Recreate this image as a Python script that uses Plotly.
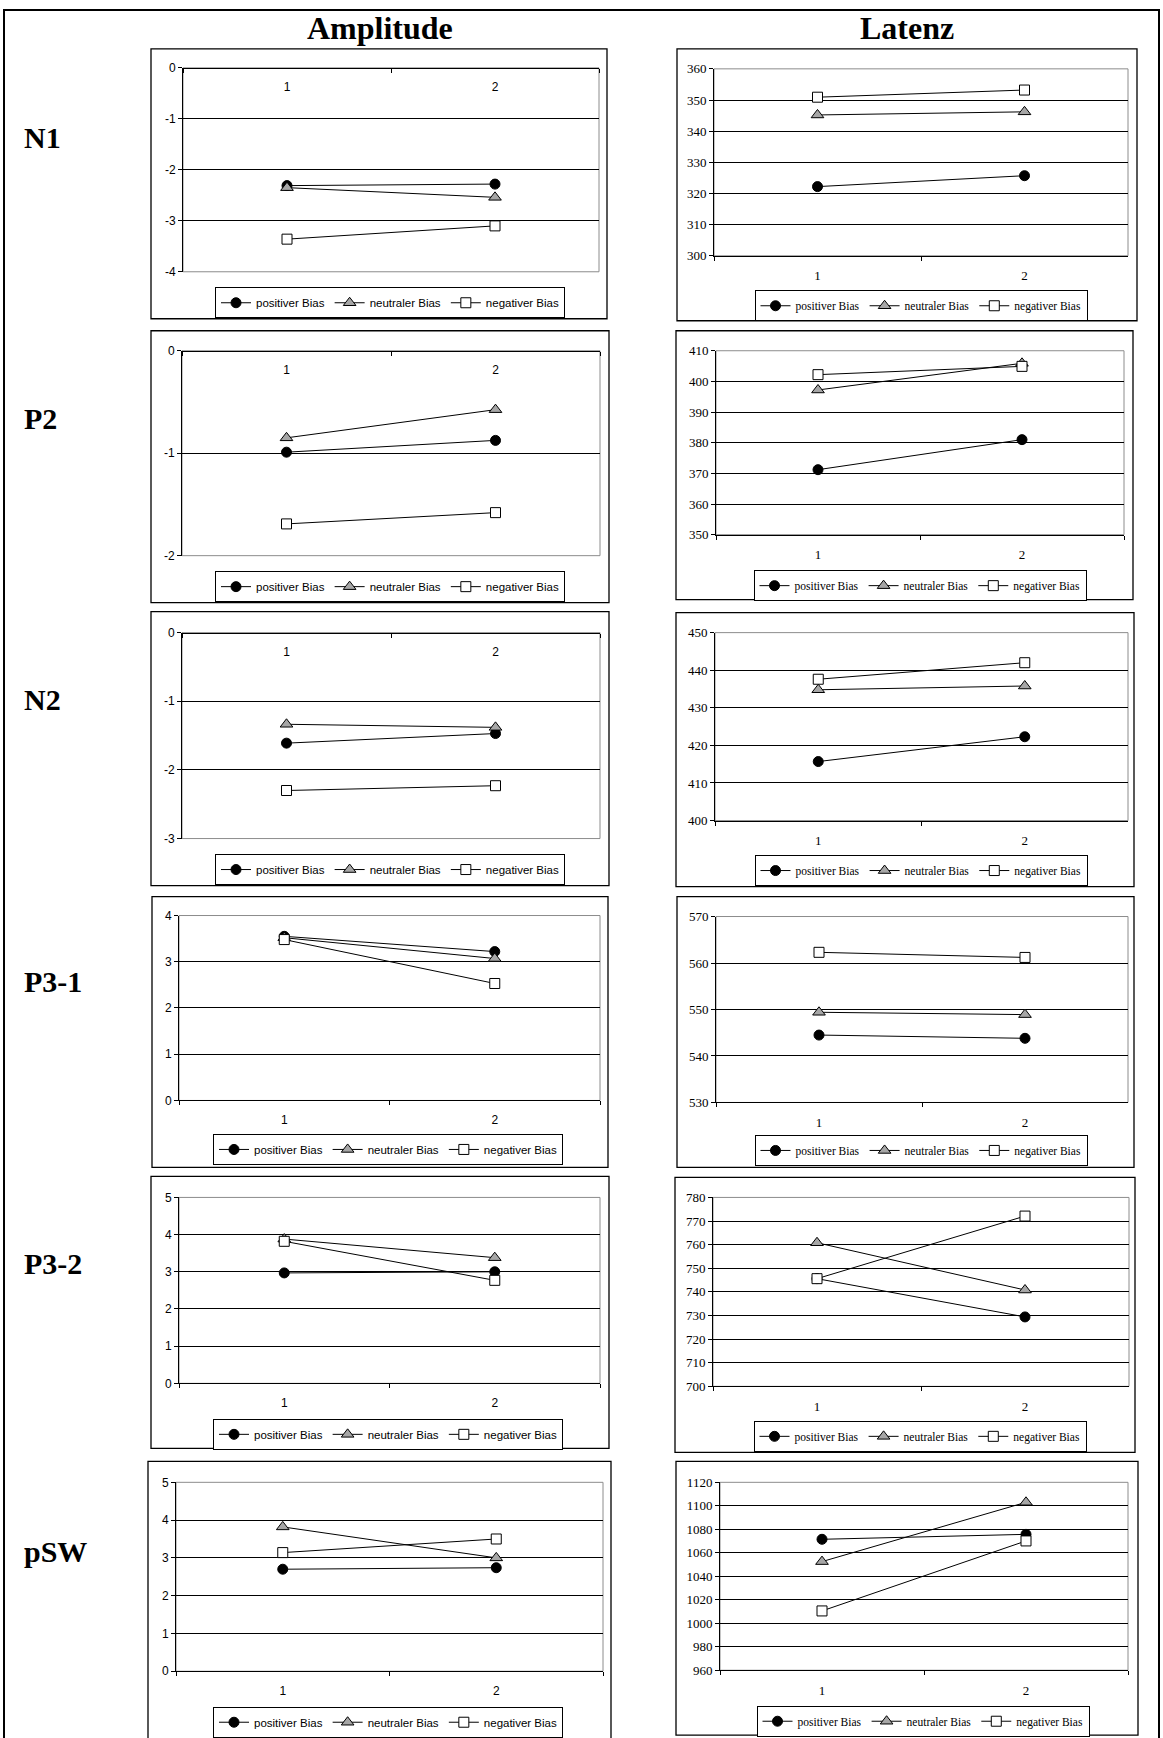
import plotly.graph_objects as go

W, H = 1163, 1738

# ---------------- data ----------------
categories = ["1", "2"]
series_names = ["positiver Bias", "neutraler Bias", "negativer Bias"]
components = ["N1", "P2", "N2", "P3-1", "P3-2", "pSW"]
column_titles = ["Amplitude", "Latenz"]

# one [x=1, x=2] pair per component (N1, P2, N2, P3-1, P3-2, pSW)
amplitude_positiv = [[-2.31, -2.28], [-0.99, -0.875], [-1.61, -1.47], [3.55, 3.22], [2.97, 3.00], [2.70, 2.74]]
amplitude_neutral = [[-2.35, -2.54], [-0.85, -0.575], [-1.335, -1.38], [3.52, 3.07], [3.88, 3.38], [3.82, 3.00]]
amplitude_negativ = [[-3.36, -3.10], [-1.69, -1.58], [-2.30, -2.23], [3.48, 2.53], [3.82, 2.77], [3.14, 3.50]]

latenz_positiv = [[322.2, 325.7], [371.2, 381.0], [415.7, 422.3], [544.5, 543.8], [745.6, 729.4], [1071.5, 1075.7]]
latenz_neutral = [[345.2, 346.2], [397.2, 405.9], [434.8, 435.8], [549.4, 548.9], [760.8, 740.8], [1052.5, 1103.0]]
latenz_negativ = [[350.9, 353.2], [402.2, 404.9], [437.6, 442.0], [562.3, 561.2], [745.6, 772.1], [1010.5, 1070.1]]

amplitude_ranges = [[-4, 0], [-2, 0], [-3, 0], [0, 4], [0, 5], [0, 5]]
amplitude_dticks = [1, 1, 1, 1, 1, 1]
latenz_ranges = [[300, 360], [350, 410], [400, 450], [530, 570], [700, 780], [960, 1120]]
latenz_dticks = [10, 10, 10, 10, 10, 20]

# ---------------- geometry (pixels) ----------------
amp_boxes = [(151, 49, 607, 319), (151, 331, 609, 603), (151, 612, 609, 886),
             (152, 897, 608, 1168), (151, 1177, 609, 1449), (148, 1462, 611, 1770)]
amp_plots = [(183, 68, 599, 272), (182, 351, 600, 556), (182, 633, 600, 839),
             (179, 916, 600, 1101), (179, 1198, 600, 1384), (176, 1483, 603, 1672)]
amp_legends = [(390, 303), (390, 587), (390, 870), (388, 1150), (388, 1435), (388, 1723)]

lat_boxes = [(677, 49, 1137, 321), (676, 331, 1133, 600), (676, 613, 1134, 887),
             (677, 897, 1134, 1168), (675, 1178, 1135, 1453), (676, 1462, 1138, 1736)]
lat_plots = [(714, 69, 1128, 256), (716, 351, 1124, 535), (715, 633, 1128, 821),
             (716, 917, 1128, 1103), (713, 1198, 1129, 1387), (720, 1483, 1128, 1671)]
lat_legends = [(921, 306), (920, 586), (921, 871), (921, 1151), (920, 1437), (923, 1722)]

label_y = [138, 419, 700, 982, 1264, 1552]
title_y = 28

symbols = ["circle", "triangle-up", "square"]
fills = ["black", "#a6a6a6", "white"]
sizes = [10, 11, 10]

SANS = "Liberation Sans, Arial, sans-serif"
SERIF = "Liberation Serif, Times New Roman, serif"

fig = go.Figure()
layout = dict(width=W, height=H, margin=dict(l=0, r=0, t=0, b=0),
              paper_bgcolor="white", plot_bgcolor="white", showlegend=True)
shapes = []
annotations = []


def ty(y):
    # small vertical calibration of the measured pixel positions
    return 1.0095 * y - 7.2


def fx(x):
    return x / W


def fy(y):
    return 1 - ty(y) / H


def add_panel(k, series, yrange, dtick, box, plot, leg, font_family, tick_size):
    suffix = "" if k == 1 else str(k)
    legname = "legend" + suffix
    for s in range(3):
        fig.add_trace(go.Scatter(
            x=categories, y=series[s], mode="lines+markers", name=series_names[s],
            line=dict(color="black", width=1),
            marker=dict(symbol=symbols[s], size=sizes[s], color=fills[s],
                        line=dict(color="black", width=1)),
            xaxis="x" + suffix, yaxis="y" + suffix, legend=legname, showlegend=True))
    negative = yrange[1] <= 0
    x0, y0, x1, y1 = plot
    xa = dict(domain=[fx(x0), fx(x1)], type="category",
              categoryorder="array", categoryarray=categories, range=[-0.5, 1.5],
              tickson="boundaries", ticks="outside", ticklen=4, tickcolor="black",
              showline=True, linecolor="black", linewidth=1, showgrid=False,
              side="bottom", ticklabelstandoff=8,
              tickfont=dict(family=font_family, size=tick_size, color="black"))
    if negative:
        # category axis crosses the value axis at 0 (top of the plot)
        xa.update(anchor="free", position=fy(y0))
    else:
        xa.update(anchor="y" + suffix)
    tvals = list(range(yrange[0], yrange[1] + dtick, dtick))
    ya = dict(domain=[fy(y1), fy(y0)], anchor="x" + suffix, range=yrange,
              tickvals=tvals, ticktext=[str(v) for v in tvals],
              ticks="outside", ticklen=4, tickcolor="black",
              showline=True, linecolor="black", linewidth=1,
              showgrid=True, gridcolor="black", gridwidth=1, zeroline=False,
              tickfont=dict(family=font_family, size=tick_size, color="black"))
    layout["xaxis" + suffix] = xa
    layout["yaxis" + suffix] = ya
    # grey plot-area border
    shapes.append(dict(type="rect", xref="x" + suffix + " domain", yref="y" + suffix + " domain",
                       x0=0, x1=1, y0=0, y1=1, line=dict(color="#8c8c8c", width=1), layer="below"))
    # chart box
    bx0, by0, bx1, by1 = box
    shapes.append(dict(type="rect", xref="paper", yref="paper", x0=fx(bx0), x1=fx(bx1),
                       y0=fy(by1), y1=fy(by0), line=dict(color="black", width=1.3)))
    layout[legname] = dict(x=fx(leg[0]), y=fy(leg[1]), xanchor="center", yanchor="middle",
                           orientation="h", bordercolor="black", borderwidth=1, bgcolor="white",
                           font=dict(family=font_family, size=11.5, color="black"),
                           itemwidth=30, tracegroupgap=0)


k = 1
for i in range(6):
    add_panel(k, [amplitude_positiv[i], amplitude_neutral[i], amplitude_negativ[i]],
              amplitude_ranges[i], amplitude_dticks[i], amp_boxes[i], amp_plots[i],
              amp_legends[i], SANS, 12)
    k += 1
    add_panel(k, [latenz_positiv[i], latenz_neutral[i], latenz_negativ[i]],
              latenz_ranges[i], latenz_dticks[i], lat_boxes[i], lat_plots[i],
              lat_legends[i], SERIF, 13)
    k += 1

# outer frame
shapes.append(dict(type="rect", xref="paper", yref="paper", x0=fx(4), x1=fx(1159),
                   y0=-0.05, y1=1 - 3 / H, line=dict(color="black", width=2)))

# column titles
for title, cx in zip(column_titles, [380, 907]):
    annotations.append(dict(text=title, x=fx(cx), y=fy(title_y), xref="paper", yref="paper",
                            showarrow=False, xanchor="center", yanchor="middle",
                            font=dict(family=SERIF, size=32, color="black", weight="bold")))
# row labels
for lab, ly in zip(components, label_y):
    annotations.append(dict(text=lab, x=fx(22), y=fy(ly), xref="paper", yref="paper",
                            showarrow=False, xanchor="left", yanchor="middle",
                            font=dict(family=SERIF, size=30, color="black", weight="bold")))

layout["shapes"] = shapes
layout["annotations"] = annotations
fig.update_layout(**layout)
fig.write_html("out.html", config={"displayModeBar": False},
               post_script="document.body.style.margin='0';document.body.style.padding='0';"
                           "document.body.style.overflow='hidden';")
